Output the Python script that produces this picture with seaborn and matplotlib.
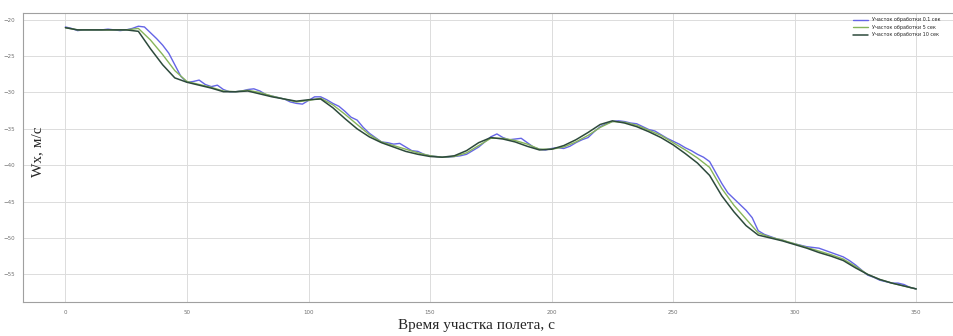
import numpy as np
import pandas as pd
import matplotlib
matplotlib.use("Agg")
import matplotlib.pyplot as plt
import seaborn as sns

# Время (с) и Wx (м/с) для трёх участков обработки
t_fine = np.arange(0, 350.1, 2.5)
t_coarse = np.arange(0, 350.1, 5)

wx_01 = [
    -21.0, -21.2, -21.5, -21.4, -21.4, -21.4, -21.4, -21.3, -21.4, -21.5,
    -21.4, -21.2, -20.9, -21.0, -21.8, -22.6, -23.5, -24.6, -26.2, -27.8,
    -28.6, -28.5, -28.3, -28.9, -29.2, -29.0, -29.6, -29.9, -29.9, -29.8,
    -29.6, -29.5, -29.8, -30.3, -30.5, -30.7, -30.9, -31.3, -31.5, -31.6,
    -31.1, -30.6, -30.6, -31.0, -31.5, -31.9, -32.6, -33.4, -33.8, -34.8,
    -35.6, -36.2, -36.8, -36.9, -37.1, -37.0, -37.5, -38.0, -38.1, -38.5,
    -38.7, -38.8, -38.9, -38.9, -38.8, -38.7, -38.5, -38.0, -37.5, -36.8,
    -36.1, -35.7, -36.2, -36.5, -36.4, -36.3, -36.9, -37.5, -37.8, -37.9,
    -37.7, -37.6, -37.7, -37.4, -36.9, -36.5, -36.2, -35.4, -34.7, -34.3,
    -34.0, -33.9, -34.0, -34.2, -34.3, -34.7, -35.1, -35.3, -35.8, -36.3,
    -36.7, -37.1, -37.6, -38.0, -38.5, -38.9, -39.5, -41.0, -42.5, -43.8,
    -44.6, -45.4, -46.2, -47.2, -49.0, -49.5, -49.8, -50.1, -50.3, -50.6,
    -50.8, -51.0, -51.2, -51.3, -51.4, -51.7, -52.0, -52.3, -52.6, -53.1,
    -53.7, -54.4, -55.1, -55.4, -55.8, -56.0, -56.2, -56.2, -56.4, -56.8,
    -57.0,
]

wx_5 = [
    -21.1, -21.4, -21.4, -21.4, -21.4, -21.4, -21.2, -22.8, -24.8, -27.0,
    -28.5, -28.9, -29.3, -29.8, -29.9, -29.7, -30.0, -30.5, -30.9, -31.3,
    -31.1, -30.8, -31.7, -33.0, -34.4, -35.8, -36.8, -37.3, -37.8, -38.3,
    -38.7, -38.9, -38.8, -38.3, -37.3, -36.3, -36.3, -36.6, -37.1, -37.8,
    -37.8, -37.5, -36.8, -35.9, -34.8, -34.0, -34.1, -34.5, -35.2, -35.9,
    -36.9, -37.9, -39.0, -40.3, -43.2, -45.5, -47.4, -49.3, -49.9, -50.3,
    -50.8, -51.3, -51.8, -52.3, -52.9, -53.9, -55.0, -55.7, -56.2, -56.6,
    -57.0,
]

wx_10 = [
    -21.1, -21.4, -21.4, -21.4, -21.4, -21.4, -21.6, -24.0, -26.2, -28.0,
    -28.6, -29.0, -29.4, -29.9, -29.9, -29.8, -30.2, -30.6, -30.9, -31.2,
    -31.0, -30.9, -32.1, -33.6, -35.0, -36.1, -36.9, -37.5, -38.1, -38.5,
    -38.8, -38.9, -38.7, -38.0, -36.9, -36.2, -36.4, -36.8, -37.4, -37.9,
    -37.8, -37.3, -36.5, -35.5, -34.4, -33.9, -34.2, -34.7, -35.4, -36.2,
    -37.2, -38.4, -39.7, -41.4, -44.2, -46.4, -48.3, -49.6, -50.0, -50.4,
    -50.9, -51.4, -52.0, -52.5, -53.1, -54.1, -55.0, -55.7, -56.2, -56.6,
    -57.0,
]

labels = ["Участок обработки 0.1 сек", "Участок обработки 5 сек", "Участок обработки 10 сек"]
colors = ["#6464e6", "#86b45a", "#2d4a3c"]

sns.set_style("whitegrid", {"grid.color": "#dcdcdc", "axes.edgecolor": "#a0a0a0"})

fig = plt.figure(figsize=(9.54, 3.36), dpi=100)
ax = fig.add_axes([0.024, 0.101, 0.981, 0.86])

sns.lineplot(x=t_fine, y=wx_01, ax=ax, color=colors[0], lw=1.0, label=labels[0])
sns.lineplot(x=t_coarse, y=wx_5, ax=ax, color=colors[1], lw=1.0, label=labels[1])
sns.lineplot(x=t_coarse, y=wx_10, ax=ax, color=colors[2], lw=1.1, label=labels[2])

ax.set_xlim(-17.5, 367.5)
ax.set_xticks(range(0, 351, 50))
ax.set_yticks(range(-20, -56, -5))
ax.tick_params(labelsize=4, colors="#707070", length=0, pad=6)
ax.grid(True, lw=0.7)

leg = ax.legend(loc="upper right", bbox_to_anchor=(0.985, 1.0), fontsize=3.5,
                frameon=False, handlelength=3)

fig.text(0.5, 0.03, "Время участка полета, с", ha="center", va="center",
         fontsize=11, family="Liberation Serif")
fig.text(0.039, 0.55, "Wx, м/с", ha="center", va="center", rotation=90,
         fontsize=11, family="Liberation Serif")

plt.savefig("out.png", dpi=100)
